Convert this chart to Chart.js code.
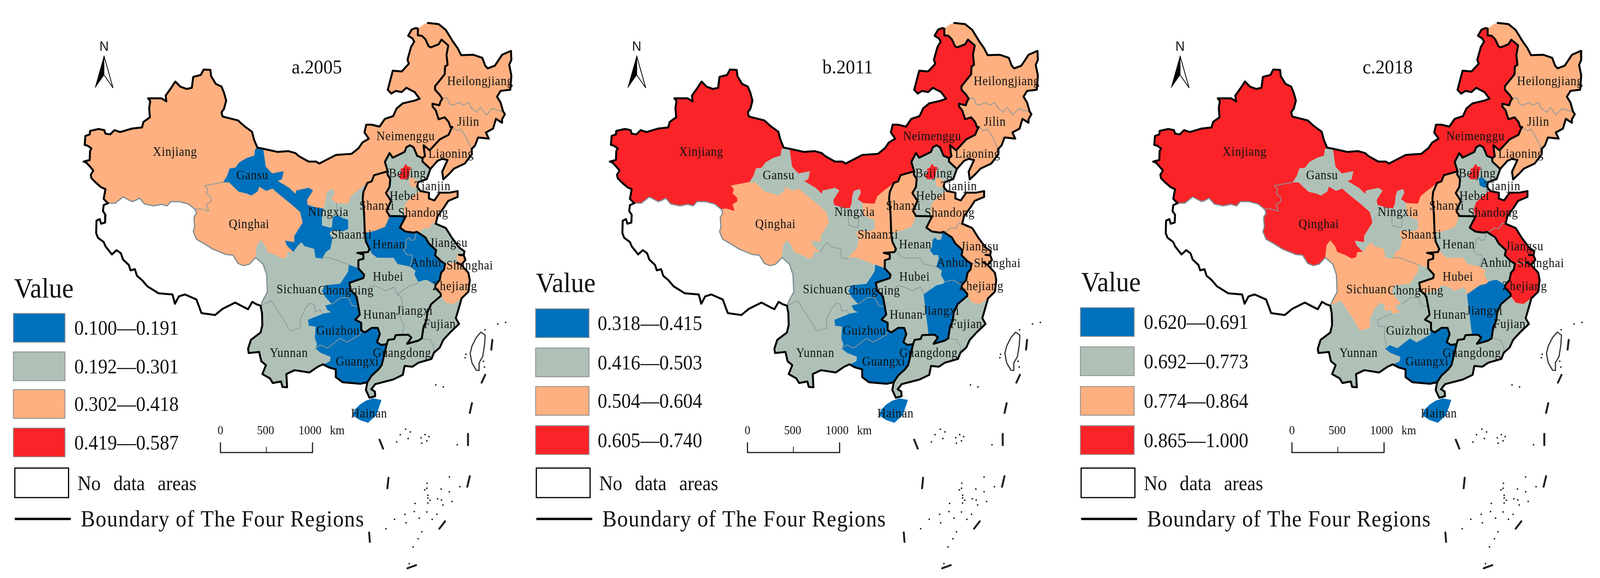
<!DOCTYPE html>
<html>
<head>
<meta charset="utf-8">
<title>Value maps 2005 2011 2018</title>
<script src="https://cdn.jsdelivr.net/npm/chart.js@4"></script>
<style>
html, body { margin: 0; background: #fff; overflow: hidden; }
canvas { position: absolute; top: 0; }
</style>
</head>
<body>
<canvas id="map2005"></canvas>
<canvas id="map2011"></canvas>
<canvas id="map2018"></canvas>
<script>
// data: classes per province and year, 0 = lowest class, 3 = highest
const provinces = ['Xinjiang','Qinghai','Gansu','Neimenggu','Heilongjiang','Jilin','Liaoning','Hebei','Beijing','Tianjin','Shanxi','Shandong','Ningxia','Shaanxi','Henan','Anhui','Jiangsu','Shanghai','Zhejiang','Hubei','Hunan','Jiangxi','Fujian','Guangdong','Guangxi','Hainan','Sichuan','Chongqing','Guizhou','Yunnan'];
const class2005 = [2,2,0,2,2,2,2,1,3,2,2,2,1,1,0,0,1,2,2,1,1,1,1,1,0,0,1,0,0,1];
const class2011 = [3,2,1,3,2,2,2,1,3,2,2,2,1,2,1,0,2,2,2,1,1,0,1,1,0,0,1,0,0,1];
const class2018 = [3,3,1,3,2,2,2,1,3,0,2,3,1,2,1,1,3,3,3,2,1,0,1,1,0,0,2,1,1,1];

const legend2005 = ['0.100—0.191','0.192—0.301','0.302—0.418','0.419—0.587'];
const legend2011 = ['0.318—0.415','0.416—0.503','0.504—0.604','0.605—0.740'];
const legend2018 = ['0.620—0.691','0.692—0.773','0.774—0.864','0.865—1.000'];

const classColors = ['#0071bc','#afc1b7','#feb080','#fa2428'];

// province borders, in map units (shared between neighbours)
const xjOuter = [[297,519],[285,508],[290,483],[278,478],[264,467],[251,455],[249,446],[256,435],[246,424],[237,415],[229,412],[246,408],[247,385],[251,378],[240,371],[232,369],[234,346],[246,342],[247,333],[271,328],[287,331],[290,340],[303,342],[315,331],[331,336],[364,327],[392,324],[396,310],[414,298],[412,274],[415,256],[409,249],[446,249],[460,257],[458,242],[472,224],[485,206],[499,219],[517,225],[531,222],[535,194],[556,189],[564,175],[583,176],[585,192],[598,212],[614,219],[621,235],[627,255],[621,276],[614,285],[617,296],[660,306],[678,321],[699,335],[705,356],[714,376]];
const nmNorth = [[714,376],[731,379],[770,387],[800,385],[820,390],[830,398],[857,412],[878,412],[887,417],[933,395],[977,392],[997,377],[1007,363],[1025,353],[1013,337],[1018,317],[1033,317],[1055,322],[1070,302],[1093,295],[1103,275],[1120,262],[1153,255],[1167,250],[1153,233],[1130,222],[1117,233],[1100,230],[1088,237],[1078,227],[1092,178],[1117,180],[1137,160],[1133,150],[1143,117],[1152,103],[1147,95],[1135,88],[1145,72],[1157,68],[1162,70]];
const xjGs = [[714,376],[708,381],[706,397],[685,403],[664,414],[653,428],[637,430],[630,449],[619,465]];
const xjQh = [[619,465],[596,469],[567,474],[576,483],[572,494],[585,505],[585,515],[572,522],[578,540],[553,533],[540,535]];
const xjXz = [[540,535],[521,521],[496,515],[472,515],[462,526],[446,522],[424,526],[399,521],[385,506],[374,512],[364,515],[339,503],[324,514],[317,519],[297,519]];
const gsQh = [[619,465],[635,465],[647,476],[662,489],[685,494],[697,499],[714,489],[719,476],[739,487],[756,481],[780,500],[811,523],[834,542],[841,569],[818,603],[818,620],[792,616],[797,628],[815,645]];
const qhSc = [[815,645],[799,645],[795,659],[782,662],[765,653],[742,645],[736,630],[723,615],[713,628],[709,659]];
const qhXz = [[540,535],[544,544],[537,556],[539,581],[535,592],[544,612],[567,624],[589,637],[626,651],[646,653],[660,674],[676,680],[692,676],[709,659]];
const scXz = [[709,659],[730,676],[740,703],[742,748],[730,768],[723,783]];
const gsSc = [[815,645],[826,630],[837,620],[845,630],[872,637],[876,660],[895,662]];
const gsSn = [[895,662],[906,645],[918,637],[924,611],[916,597],[922,590],[952,592],[968,586],[968,561],[952,557],[937,549]];
const nxGs = [[937,549],[924,555],[922,580],[918,582],[895,576],[895,555],[899,532]];
const nxSn = [[935,519],[937,549]];
const nxNm = [[899,532],[904,519],[906,500],[910,488],[926,483],[929,492],[920,509],[935,519]];
const gsNm = [[899,532],[880,530],[855,523],[853,511],[870,486],[857,479],[822,486],[820,494],[803,479],[772,462],[783,458],[788,436],[755,442],[738,425],[731,379]];
const nmHlj = [[1162,70],[1162,87],[1173,88],[1183,97],[1192,115],[1198,118],[1220,110],[1228,98],[1247,113],[1242,137],[1245,163],[1238,167],[1237,187],[1210,218],[1210,227],[1223,240],[1230,250]];
const hljJl = [[1230,250],[1243,247],[1250,263],[1258,267],[1278,260],[1288,267],[1303,260],[1312,275],[1327,285],[1337,272],[1353,292],[1370,275],[1383,280],[1400,283]];
const nmJl = [[1230,250],[1225,258],[1222,267],[1203,263],[1203,270],[1212,280],[1220,303],[1237,298],[1248,310],[1253,323],[1258,323]];
const jlLn = [[1258,323],[1273,333],[1282,328],[1297,350],[1312,380]];
const nmLn = [[1258,323],[1253,332],[1248,343],[1223,355],[1195,383],[1178,370],[1180,387],[1182,398],[1175,403]];
const lnHb = [[1175,403],[1175,412],[1197,431]];
const hljOuter = [[1190,55],[1220,58],[1240,73],[1260,103],[1273,120],[1283,138],[1317,137],[1342,145],[1350,165],[1357,172],[1377,165],[1397,137],[1422,127],[1423,150],[1417,163],[1423,190],[1420,227],[1393,230],[1383,245],[1393,260],[1400,283]];
const jlOuter = [[1400,283],[1405,290],[1397,303],[1397,312],[1380,302],[1372,327],[1352,337],[1360,353],[1330,350],[1322,370],[1312,380]];
const lnCoast = [[1312,380],[1313,393],[1293,417],[1263,430],[1250,443],[1233,458],[1230,438],[1245,408],[1230,405],[1217,410],[1197,431]];
const hbCoast = [[1197,431],[1187,457],[1163,465],[1160,477],[1170,488]];
const hbSd = [[1170,488],[1163,490],[1130,517],[1123,537],[1128,553]];
const hbHe = [[1128,553],[1082,552],[1082,550]];
const hbSx = [[1082,550],[1075,540],[1087,513],[1073,493],[1083,477],[1085,457],[1077,445],[1078,437]];
const nmHb = [[1175,403],[1160,397],[1150,375],[1140,370],[1130,375],[1125,387],[1092,402],[1083,390],[1070,413],[1078,437]];
const nmSx = [[1078,437],[1040,447],[1033,463],[1021,467]];
const nmSn = [[1021,467],[1014,473],[987,492],[975,502],[968,521],[935,519]];
const snSx = [[1021,467],[1010,490],[1008,507],[1012,546],[1014,597]];
const sxHe = [[1014,597],[1044,590],[1071,580],[1082,557],[1082,550]];
const snHe = [[1014,597],[1017,618],[1027,637]];
const snHub = [[1027,637],[1023,645],[993,647],[1010,651],[1010,662],[996,666],[996,687]];
const snCq = [[996,687],[970,678]];
const snSc = [[970,678],[941,668],[914,659],[903,659],[895,662]];
const heSd = [[1128,553],[1112,582],[1127,592],[1150,595]];
const heAh = [[1150,595],[1157,600],[1153,613],[1143,615],[1137,608],[1130,613],[1128,633],[1122,640],[1132,652],[1145,652],[1147,662],[1140,683]];
const heHub = [[1140,683],[1105,676],[1094,660],[1048,660],[1033,649],[1027,637]];
const sdCoast = [[1170,488],[1193,492],[1193,507],[1208,512],[1223,492],[1250,492],[1273,488],[1273,503],[1247,513],[1235,530],[1217,553],[1212,572]];
const sdJs = [[1212,572],[1203,570],[1193,585],[1180,583],[1167,592],[1150,595]];
const jsCoast = [[1212,572],[1240,583],[1257,608],[1277,633],[1292,643],[1290,653],[1277,652]];
const jsSh = [[1277,652],[1272,650],[1272,672]];
const jsZj = [[1272,672],[1238,675]];
const jsAh = [[1238,675],[1226,668],[1210,653],[1213,640],[1193,623],[1183,607],[1160,593],[1150,595]];
const shCoast = [[1277,652],[1290,653],[1295,665],[1283,678],[1272,672]];
const zjCoast = [[1283,678],[1303,698],[1307,717],[1303,747],[1284,764]];
const zjFj = [[1284,764],[1262,779],[1240,776],[1226,758]];
const zjJx = [[1226,758],[1226,752],[1211,737],[1211,730]];
const ahZj = [[1238,675],[1235,690],[1227,698],[1223,717],[1211,730]];
const ahJx = [[1211,730],[1187,717],[1178,718],[1163,722]];
const ahHub = [[1163,722],[1152,703],[1155,693],[1140,683]];
const cqHub = [[996,687],[1012,703],[1010,712],[971,724],[975,745],[985,752]];
const hubHun = [[985,752],[1017,745],[1033,731],[1052,735],[1071,745],[1096,735],[1105,754]];
const hubJx = [[1105,754],[1111,750],[1140,731],[1159,727],[1163,722]];
const cqHun = [[985,752],[991,760],[996,785]];
const cqGz = [[996,785],[979,783],[968,762],[947,762],[922,779]];
const cqSc = [[922,779],[904,760],[895,745],[903,731],[945,727],[956,712],[968,695],[970,678]];
const gzHun = [[996,785],[1000,806],[987,819],[1004,827],[1004,846]];
const gxHun = [[1004,846],[1014,852],[1033,840],[1050,840],[1056,856],[1048,877],[1059,884],[1075,882]];
const gdHun = [[1075,882],[1079,871],[1096,869],[1100,859],[1119,858]];
const hunJx = [[1119,858],[1123,833],[1113,814],[1111,794],[1119,775],[1115,760],[1105,754]];
const jxFj = [[1226,758],[1199,779],[1188,802],[1186,821],[1178,837],[1173,867]];
const gdJx = [[1173,867],[1163,873],[1132,881],[1144,865],[1136,858],[1119,858]];
const fjGd = [[1173,867],[1197,871],[1207,889],[1207,904]];
const fjCoast = [[1284,764],[1276,790],[1268,815],[1277,830],[1253,851],[1233,871],[1223,891],[1207,904]];
const gdGx = [[1075,882],[1068,910],[1061,936],[1052,947],[1033,963],[1021,980]];
const gdCoast = [[1021,980],[1017,1000],[1027,1020],[1043,1016],[1042,1004],[1032,998],[1043,985],[1093,973],[1120,961],[1125,938],[1147,940],[1163,930],[1200,920],[1207,904]];
const gxCoast = [[1021,980],[1002,984],[952,980],[933,967],[933,947],[914,942],[897,934]];
const gxYn = [[897,934],[916,926],[918,915],[891,905],[876,894]];
const gxGz = [[876,894],[889,884],[910,892],[945,867],[964,877],[1000,858],[1004,846]];
const gzYn = [[876,894],[880,882],[874,867],[876,837],[857,835],[855,819],[895,804]];
const gzSc = [[895,804],[922,800],[910,794],[904,783],[922,779]];
const scYn = [[895,804],[891,794],[876,798],[872,779],[860,777],[847,791],[834,817],[834,840],[806,848],[784,814],[769,794],[753,770],[742,775],[723,783]];
const ynCoast = [[897,934],[883,940],[859,955],[818,949],[795,959],[797,993],[784,992],[780,978],[757,982],[749,970],[728,959],[738,936],[725,926],[719,902],[690,905],[688,894],[696,871],[723,852],[728,833],[727,802],[723,783]];
const xzSouth = [[297,519],[285,524],[283,539],[290,549],[289,569],[278,572],[274,560],[265,564],[264,596],[269,608],[285,619],[290,630],[308,651],[321,640],[333,648],[339,664],[355,678],[360,692],[372,689],[378,706],[392,717],[407,733],[438,751],[477,754],[484,778],[495,759],[512,754],[544,767],[558,802],[596,807],[617,791],[652,775],[677,787],[688,792],[700,773],[711,779],[723,783]];

const rev = a => a.slice().reverse();
const join = (...parts) => parts.flat();

const outlines = {
    Xinjiang: join(xjOuter, xjGs, xjQh, xjXz),
    Qinghai: join(rev(xjQh), gsQh, qhSc, rev(qhXz)),
    Gansu: join(xjGs, gsQh, gsSc, gsSn, nxGs, gsNm),
    Neimenggu: join(nmNorth, nmHlj, nmJl, nmLn, nmHb, nmSx, nmSn, rev(nxNm), gsNm),
    Heilongjiang: join([[1162,70],[1180,58]], hljOuter, rev(hljJl), rev(nmHlj)),
    Jilin: join(nmJl, jlLn, rev(jlOuter), rev(hljJl)),
    Liaoning: join(nmLn, lnHb, rev(lnCoast), rev(jlLn)),
    Hebei: join(lnHb, hbCoast, hbSd, hbHe, hbSx, rev(nmHb)),
    Beijing: [[1128,418],[1133,425],[1143,427],[1138,437],[1137,450],[1128,457],[1113,457],[1110,445],[1118,438],[1113,432],[1122,428]],
    Tianjin: [[1138,455],[1147,453],[1160,463],[1157,478],[1150,478],[1140,473]],
    Shanxi: join(nmSx, snSx, sxHe, rev(hbSx)),
    Shandong: join(sdCoast, sdJs, rev(heSd), rev(hbSd)),
    Ningxia: join(nxNm, nxSn, nxGs),
    Shaanxi: join(rev(nmSn), snSx, snHe, snHub, snCq, snSc, gsSn, nxSn),
    Henan: join(rev(hbHe), heSd, heAh, heHub, rev(snHe), sxHe),
    Anhui: join(rev(jsAh), ahZj, ahJx, ahHub, rev(heAh)),
    Jiangsu: join(jsCoast, jsSh, jsZj, jsAh, rev(sdJs)),
    Shanghai: join(shCoast, rev(jsSh)),
    Zhejiang: join(rev(jsZj), zjCoast, zjFj, zjJx, rev(ahZj)),
    Hubei: join(snHub, cqHub, hubHun, hubJx, ahHub, heHub),
    Hunan: join(rev(hubHun), cqHun, gzHun, gxHun, gdHun, hunJx),
    Jiangxi: join(hubJx, rev(ahJx), rev(zjJx), jxFj, gdJx, rev(hunJx)),
    Fujian: join(zjFj, jxFj, fjGd, rev(fjCoast)),
    Guangdong: join(rev(gdHun), gdGx, gdCoast, rev(fjGd), gdJx),
    Guangxi: join(gxHun, gdGx, gxCoast, gxYn, gxGz),
    Hainan: [[1000,1038],[1017,1028],[1037,1022],[1060,1026],[1050,1053],[1045,1065],[1023,1084],[1000,1077],[982,1066],[985,1052]],
    Sichuan: join(rev(qhSc), gsSc, rev(snSc), rev(cqSc), rev(gzSc), scYn, rev(scXz)),
    Chongqing: join(rev(snCq), cqHub, cqHun, cqGz, cqSc),
    Guizhou: join(rev(cqGz), gzHun, rev(gxGz), gzYn, gzSc),
    Yunnan: join(rev(scYn), rev(gzYn), rev(gxYn), ynCoast)
};

// the thick line of the legend: outer border and the borders of the four regions
const boundaryLines = [xzSouth, join(xjOuter, nmNorth), nmHlj, nmJl, nmLn, lnHb, hljOuter, jlOuter, lnCoast, hbCoast, sdCoast, jsCoast, shCoast, zjCoast, fjCoast, gdCoast, gxCoast, ynCoast,
    nmHb, hbSx, hbHe, heSd, jsAh, ahZj, zjJx, jxFj, gdJx, gdHun, gdGx, nmSx, snSx, snHe, snHub, cqHub, cqHun, gzHun, gxHun];

// thin lines show only between two provinces of one class
const innerBorders = [['Xinjiang','Qinghai',xjQh],['Xinjiang','Gansu',xjGs],['Qinghai','Gansu',gsQh],['Qinghai','Sichuan',qhSc],['Gansu','Sichuan',gsSc],['Gansu','Shaanxi',gsSn],['Gansu','Ningxia',nxGs],['Gansu','Neimenggu',gsNm],['Neimenggu','Ningxia',nxNm],['Neimenggu','Shaanxi',nmSn],['Ningxia','Shaanxi',nxSn],['Heilongjiang','Jilin',hljJl],['Jilin','Liaoning',jlLn],['Sichuan','Shaanxi',snSc],['Sichuan','Chongqing',cqSc],['Sichuan','Guizhou',gzSc],['Sichuan','Yunnan',scYn],['Guizhou','Yunnan',gzYn],['Guizhou','Chongqing',cqGz],['Guizhou','Guangxi',gxGz],['Guangxi','Yunnan',gxYn],['Henan','Hubei',heHub],['Henan','Anhui',heAh],['Shaanxi','Chongqing',snCq],['Hubei','Hunan',hubHun],['Hubei','Jiangxi',hubJx],['Hubei','Anhui',ahHub],['Anhui','Jiangxi',ahJx],['Hunan','Jiangxi',hunJx],['Fujian','Guangdong',fjGd],['Zhejiang','Fujian',zjFj],['Shandong','Jiangsu',sdJs],['Hebei','Shandong',hbSd],['Jiangsu','Zhejiang',jsZj]];
const noDataBorders = [xjXz, qhXz, scXz];

// islands and the dashed sea border, these sit a bit further right in b and c
const taiwan = [[1338,851],[1350,859],[1348,885],[1343,914],[1333,930],[1333,950],[1325,949],[1313,930],[1308,906],[1313,887],[1325,865],[1338,851]];
const seaDashes = [[[1350,961],[1340,981]],[[1370,871],[1367,896]],[[1313,1034],[1307,1059]],[[1302,1113],[1302,1142]],[[1055,1128],[1065,1151]],[[1080,1226],[1077,1253]],[[1307,1222],[1300,1249]],[[1238,1338],[1222,1357]],[[1026,1367],[1028,1391]],[[1157,1451],[1133,1459]]];
const isles = [[1212,987],[1233,992],[1349,845],[1385,830],[1407,826],[1296,908],[1294,917],[1345,926],[1348,941],[1128,1101],[1141,1108],[1113,1115],[1135,1125],[1103,1134],[1182,1115],[1171,1123],[1193,1120],[1187,1131],[1173,1137],[1272,1141],[1250,1224],[1188,1240],[1187,1253],[1181,1257],[1227,1255],[1250,1262],[1279,1249],[1190,1271],[1190,1278],[1196,1284],[1190,1291],[1217,1280],[1228,1283],[1232,1296],[1257,1287],[1154,1292],[1152,1313],[1187,1314],[1215,1320],[1126,1320],[1166,1330],[1202,1333],[1097,1333],[1129,1342],[1073,1357],[1173,1365],[1163,1383],[1149,1404],[1138,1447]];

// province label centres
const labelPlaces = {
    Xinjiang:[484,388],Gansu:[700,449],Qinghai:[691,574],Neimenggu:[1128,348],Heilongjiang:[1336,206],Jilin:[1303,311],Liaoning:[1255,393],Beijing:[1133,444],Tianjin:[1203,477],Hebei:[1125,502],Shanxi:[1048,527],Shandong:[1177,545],Ningxia:[912,543],Shaanxi:[977,602],Henan:[1081,627],Jiangsu:[1248,623],Anhui:[1185,674],Shanghai:[1307,681],Hubei:[1079,710],Zhejiang:[1265,734],Sichuan:[824,742],Chongqing:[961,745],Hunan:[1056,808],Jiangxi:[1153,798],Fujian:[1223,832],Guizhou:[939,849],Yunnan:[802,906],Guangdong:[1118,906],Guangxi:[993,928],Hainan:[1026,1062]
};

const scaleTicks = [0, 500, 1000];

// the page is laid out on a 4438 wide sheet, then fitted to the real window
const SHEET_W = 4438, SHEET_H = 1480;
const panels = [
    { id:'map2005', left:0, width:1460, title:'a.2005', titleX:810, classes:class2005, legend:legend2005, arrowX:0, isleX:0, scaleX:0, legX:33, swW:144, valueX:35, valueY:762, swY:[803,902,999,1098], swH:74, textX:203, boxX:37, moved:[0,0,0,0] },
    { id:'map2011', left:1460, width:1507, title:'b.2011', titleX:822, classes:class2011, legend:legend2011, arrowX:18, isleX:23, scaleX:2, legX:22, swW:149, valueX:23, valueY:748, swY:[791,892,991,1092], swH:74, textX:195, boxX:24, moved:[13,9,3,-6] },
    { id:'map2018', left:2967, width:1471, title:'c.2018', titleX:813, classes:class2018, legend:legend2018, arrowX:18, isleX:18, scaleX:5, legX:26, swW:150, valueX:28, valueY:746, swY:[788,889,991,1092], swH:74, textX:203, boxX:28, moved:[17,9,3,-6] }
];

const SERIF = '"Liberation Serif", serif';
const toPoints = a => a.map(p => ({ x: p[0], y: p[1] }));

function polygon(points, color) {
    return { data: toPoints(points.concat([points[0]])), fill: 'shape', backgroundColor: color, borderColor: color, borderWidth: 1, pointRadius: 0, showLine: true, tension: 0 };
}
function line(points, color, width) {
    return { data: toPoints(points), fill: false, borderColor: color, borderWidth: width, pointRadius: 0, showLine: true, tension: 0, borderJoinStyle: 'round', borderCapStyle: 'round' };
}

function buildDatasets(p) {
    const sets = [];
    provinces.forEach((name, i) => sets.push(polygon(outlines[name], classColors[p.classes[i]])));
    innerBorders.forEach(b => {
        if (p.classes[provinces.indexOf(b[0])] === p.classes[provinces.indexOf(b[1])]) {
            sets.push(line(b[2], '#8b9a9b', 2));
        }
    });
    noDataBorders.forEach(b => sets.push(line(b, '#7d8c92', 3)));
    boundaryLines.forEach(b => sets.push(line(b, '#000', 5)));

    const shift = a => a.map(q => [q[0] + p.isleX, q[1]]);
    sets.push(line(shift(taiwan), '#333', 3));
    seaDashes.forEach(d => sets.push(line(shift(d), '#222', 5)));
    sets.push({ data: toPoints(shift(isles)), pointStyle: 'rect', pointRadius: 2.5, backgroundColor: '#111', borderWidth: 0, showLine: false });

    // scale bar
    const bar = q => [q[0] + p.scaleX, q[1]];
    sets.push(line([[611,1136],[611,1161],[868,1161],[868,1136]].map(bar), '#222', 3));
    sets.push(line([[739,1147],[739,1161]].map(bar), '#222', 2));

    // north arrow
    const arrow = q => [q[0] + p.arrowX, q[1]];
    sets.push(polygon([[286,140],[286,189],[261,222]].map(arrow), '#000'));
    sets.push(line([[286,140],[311,222],[286,189]].map(arrow), '#000', 2));
    // first dataset is painted last in Chart.js
    return sets.reverse();
}

function textPlugin(p) {
    return {
        id: 'mapText',
        afterDatasetsDraw(chart) {
            const ctx = chart.ctx;
            const X = v => chart.scales.x.getPixelForValue(v);
            const Y = v => chart.scales.y.getPixelForValue(v);
            const sx = X(1) - X(0);
            const sy = Y(1) - Y(0);
            // text keeps the sheet's proportions, so it is squeezed along with the map
            const put = (txt, x, y) => {
                ctx.save();
                ctx.translate(X(x), Y(y));
                ctx.scale(sx, sy);
                ctx.fillText(txt, 0, 0);
                ctx.restore();
            };
            ctx.save();
            ctx.fillStyle = '#111';
            ctx.textBaseline = 'middle';
            ctx.textAlign = 'center';
            ctx.font = '33px ' + SERIF;
            ctx.letterSpacing = '1px';
            provinces.forEach(name => {
                let q = labelPlaces[name];
                let dx = 0, dy = 0;
                if (name === 'Jiangsu') { dx = p.moved[0]; dy = p.moved[1]; }
                if (name === 'Shanghai') { dx = p.moved[2]; dy = p.moved[3]; }
                put(name, q[0] + dx, q[1] + dy);
            });
            ctx.letterSpacing = '0px';

            // scale bar text
            ctx.font = '32px ' + SERIF;
            scaleTicks.forEach((t, i) => put(String(t), [611, 737, 861][i] + p.scaleX, 1106));
            put('km', 937 + p.scaleX, 1106);

            // north letter
            ctx.font = '36px "Liberation Sans", sans-serif';
            put('N', 286 + p.arrowX, 117);

            ctx.textAlign = 'left';
            ctx.textBaseline = 'alphabetic';
            ctx.font = '52px ' + SERIF;
            put(p.title, p.titleX, 185);

            // legend
            ctx.font = '73px ' + SERIF;
            put('Value', p.valueX, p.valueY);
            ctx.font = '53px ' + SERIF;
            p.legend.forEach((txt, i) => {
                const left = X(p.legX), top = Y(p.swY[i]);
                const w = X(p.legX + p.swW) - left, h = Y(p.swY[i] + p.swH) - top;
                ctx.fillStyle = classColors[i];
                ctx.strokeStyle = '#8a8a8a';
                ctx.lineWidth = 2;
                ctx.fillRect(left, top, w, h);
                ctx.strokeRect(left, top, w, h);
                ctx.fillStyle = '#111';
                put(txt, p.textX, p.swY[i] + 55);
            });
            ctx.strokeStyle = '#000';
            ctx.lineWidth = 3;
            ctx.strokeRect(X(p.boxX), Y(1201), X(p.boxX + 150) - X(p.boxX), Y(1277) - Y(1201));
            ctx.wordSpacing = '22px';
            put('No data areas', p.boxX + 175, 1258);
            ctx.wordSpacing = '0px';
            ctx.lineWidth = 6;
            ctx.beginPath();
            ctx.moveTo(X(p.boxX), Y(1332));
            ctx.lineTo(X(p.boxX + 156), Y(1332));
            ctx.stroke();
            ctx.font = '60px ' + SERIF;
            ctx.letterSpacing = '1.5px';
            put('Boundary of The Four Regions', p.boxX + 184, 1351);
            ctx.restore();
        }
    };
}

const fitX = window.innerWidth / SHEET_W;
panels.forEach(p => {
    const canvas = document.getElementById(p.id);
    const w = Math.round(p.width * fitX);
    canvas.style.left = Math.round(p.left * fitX) + 'px';
    canvas.width = w;
    canvas.height = window.innerHeight;
    canvas.style.width = w + 'px';
    canvas.style.height = window.innerHeight + 'px';
    new Chart(canvas, {
        type: 'scatter',
        data: { datasets: buildDatasets(p) },
        options: {
            responsive: false,
            animation: false,
            devicePixelRatio: 1,
            layout: { padding: 0 },
            plugins: { legend: { display: false }, tooltip: { enabled: false }, title: { display: false } },
            scales: {
                x: { type: 'linear', display: false, min: 0, max: p.width },
                y: { type: 'linear', display: false, min: 0, max: SHEET_H, reverse: true }
            }
        },
        plugins: [textPlugin(p)]
    });
});
</script>
</body>
</html>
